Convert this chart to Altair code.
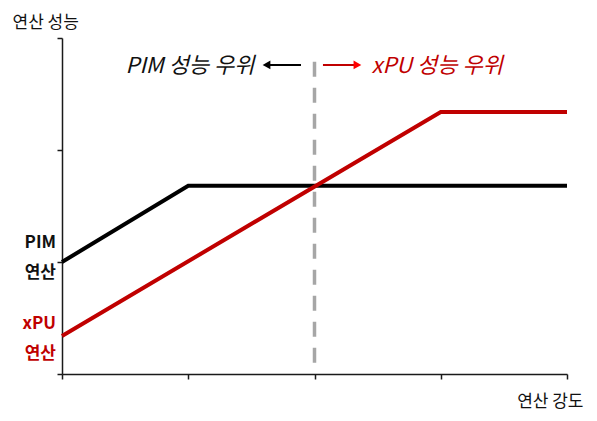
import altair as alt
import pandas as pd

FONT = "Noto Sans CJK KR"

# ---- data ----
pim_x = [0, 1, 4]
pim_y = [1.0, 1.68, 1.68]
xpu_x = [0, 3, 4]
xpu_y = [0.34, 2.34, 2.34]
x_ticks = [0, 1, 2, 3, 4]
y_ticks = [0, 1, 2, 3]
split_x = 2
split_y = [0.1, 2.85]
arrow_y = 2.76
pim_arrow = [1.893, 1.62]   # tail, head
xpu_arrow = [2.067, 2.34]
pim_text = "PIM 성능 우위"
xpu_text = "xPU 성능 우위"

BLACK = "#000000"
RED = "#C00000"

lines_df = pd.DataFrame(
    {"x": pim_x + xpu_x,
     "y": pim_y + xpu_y,
     "s": ["PIM"] * len(pim_x) + ["xPU"] * len(xpu_x)}
)

xs = alt.Scale(domain=[0, 4], nice=False, zero=False)
ys = alt.Scale(domain=[0, 3], nice=False, zero=False)

base = alt.Chart(lines_df)

lines = base.mark_line(strokeWidth=4, clip=False).encode(
    x=alt.X("x:Q", scale=xs,
            axis=alt.Axis(values=x_ticks, labels=False, grid=False, title="연산 강도",
                          titleX=521, titleY=32, titleAlign="right", titleBaseline="alphabetic",
                          titleAnchor=None)),
    y=alt.Y("y:Q", scale=ys,
            axis=alt.Axis(values=y_ticks, labels=False, grid=False, title="연산 성능",
                          titleAngle=0, titleX=-50, titleY=-11, titleAlign="left",
                          titleBaseline="alphabetic")),
    color=alt.Color("s:N", scale=alt.Scale(domain=["PIM", "xPU"], range=[BLACK, RED]),
                    legend=None),
)

split_df = pd.DataFrame({"x": [split_x], "y": [split_y[0]], "y2": [split_y[1]]})
split = alt.Chart(split_df).mark_rule(color="#A6A6A6", strokeWidth=3.5,
                                      strokeDash=[15, 11]).encode(
    x=alt.X("x:Q", scale=xs), y=alt.Y("y:Q", scale=ys), y2="y2:Q")

arr_df = pd.DataFrame({
    "x": [pim_arrow[0], xpu_arrow[0]],
    "x2": [pim_arrow[1], xpu_arrow[1]],
    "y": [arrow_y, arrow_y],
    "c": ["PIM", "xPU"],
})
arr_scale = alt.Scale(domain=["PIM", "xPU"], range=[BLACK, "#FF0000"])
arrow_lines = alt.Chart(arr_df).mark_rule(strokeWidth=2).encode(
    x=alt.X("x:Q", scale=xs), x2="x2:Q", y=alt.Y("y:Q", scale=ys),
    color=alt.Color("c:N", scale=arr_scale, legend=None))

head_df = pd.DataFrame({"x": [pim_arrow[1]], "y": [arrow_y]})
head_l = alt.Chart(head_df).mark_point(shape="triangle-left", filled=True, size=80,
                                       opacity=1, color=BLACK).encode(
    x=alt.X("x:Q", scale=xs), y=alt.Y("y:Q", scale=ys))
head_df2 = pd.DataFrame({"x": [xpu_arrow[1]], "y": [arrow_y]})
head_r = alt.Chart(head_df2).mark_point(shape="triangle-right", filled=True, size=80,
                                        opacity=1, color="#FF0000").encode(
    x=alt.X("x:Q", scale=xs), y=alt.Y("y:Q", scale=ys))

t1 = alt.Chart(pd.DataFrame({"x": [pim_arrow[1]], "y": [arrow_y], "t": [pim_text]})).mark_text(
    align="right", baseline="middle", dx=-12, dy=1, font=FONT, fontSize=22,
    fontStyle="italic", color="#111111").encode(
    x=alt.X("x:Q", scale=xs), y=alt.Y("y:Q", scale=ys), text="t:N")
t2 = alt.Chart(pd.DataFrame({"x": [xpu_arrow[1]], "y": [arrow_y], "t": [xpu_text]})).mark_text(
    align="left", baseline="middle", dx=14, dy=1, font=FONT, fontSize=22,
    fontStyle="italic", color=RED).encode(
    x=alt.X("x:Q", scale=xs), y=alt.Y("y:Q", scale=ys), text="t:N")

lab1 = alt.Chart(pd.DataFrame({"x": [0], "y": [pim_y[0]], "t": [["PIM", "연산"]]})).mark_text(
    align="right", baseline="middle", dx=-6, dy=-19, lineHeight=30, font=FONT,
    fontSize=17, fontWeight="bold", color="#111111").encode(
    x=alt.X("x:Q", scale=xs), y=alt.Y("y:Q", scale=ys), text="t")
lab2 = alt.Chart(pd.DataFrame({"x": [0], "y": [xpu_y[0]], "t": [["xPU", "연산"]]})).mark_text(
    align="right", baseline="middle", dx=-6, dy=-12, lineHeight=30, font=FONT,
    fontSize=17, fontWeight="bold", color=RED).encode(
    x=alt.X("x:Q", scale=xs), y=alt.Y("y:Q", scale=ys), text="t")

chart = alt.layer(split, lines, arrow_lines, head_l, head_r, t1, t2, lab1, lab2).properties(
    width=505, height=336,
    autosize=alt.AutoSizeParams(type="none"),
    padding={"left": 54, "top": 30, "right": 22, "bottom": 39},
).configure_view(stroke=None).configure_axis(
    domainColor="#1a1a1a", domainWidth=1.5, tickColor="#1a1a1a", tickWidth=1.5,
    tickSize=5, titleFont=FONT, titleFontSize=17, titleFontWeight="normal",
    titleColor="#111111",
)

chart.save("out.html", embed_options={"renderer": "svg", "actions": False})
